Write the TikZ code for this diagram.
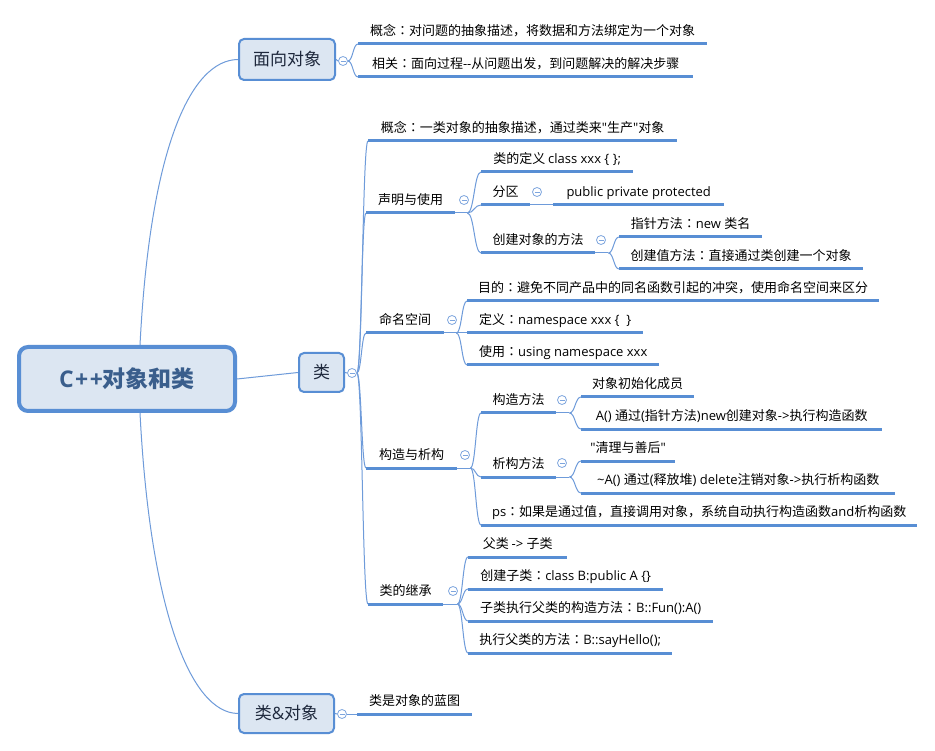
\documentclass[tikz,border=0pt]{standalone}
\usepackage{fontspec}
\newfontfamily\cjkfont{Noto Sans CJK SC}
\newfontfamily\colfont{Noto Sans CJK TC}
\newfontfamily\latinfont{Open Sans}
\usetikzlibrary{calc,backgrounds}
% automatic switching between Latin and CJK fonts
\newXeTeXintercharclass\CJKcls
\newXeTeXintercharclass\COLcls
\makeatletter
\def\setcjkrange#1#2{\count@=#1\relax
  \loop\XeTeXcharclass\count@=\CJKcls\advance\count@ by 1\relax
  \ifnum\count@<#2\repeat}
\makeatother
\setcjkrange{"3000}{"3040}
\setcjkrange{"4E00}{"A000}
\setcjkrange{"FF00}{"FFF0}
\XeTeXcharclass"FF1A=\COLcls
\XeTeXinterchartoks 0 \CJKcls = {\cjkfont}
\XeTeXinterchartoks 4095 \CJKcls = {\cjkfont}
\XeTeXinterchartoks \CJKcls 0 = {\latinfont}
\XeTeXinterchartoks 4095 0 = {\latinfont}
\XeTeXinterchartoks 0 \COLcls = {\colfont}
\XeTeXinterchartoks \CJKcls \COLcls = {\colfont}
\XeTeXinterchartoks 4095 \COLcls = {\colfont}
\XeTeXinterchartoks \COLcls \CJKcls = {\cjkfont}
\XeTeXinterchartoks \COLcls 0 = {\latinfont}
\XeTeXinterchartokenstate=1
\definecolor{lineblue}{RGB}{88,142,212}
\definecolor{thinblue}{RGB}{110,155,218}
\definecolor{boxfill}{RGB}{220,230,242}
\definecolor{rootfg}{RGB}{58,94,140}
\definecolor{boxtext}{RGB}{30,40,60}
\definecolor{circblue}{RGB}{125,165,222}
\newcommand\leafline[1]{\draw[uline] (#1.south west) -- (#1.south east);}
\tikzset{
  leaf/.style={anchor=south west, inner xsep=0pt, inner ysep=8pt, text depth=0pt,
    font=\latinfont\fontsize{13}{15}\selectfont},
  uline/.style={draw=lineblue, line width=3pt},
  conn/.style={draw=thinblue, line width=1pt},
  sbend/.style={to path={.. controls ($(\tikztostart)!0.5!(\tikztotarget|-\tikztostart)$)
      and ($(\tikztotarget)!0.5!(\tikztostart|-\tikztotarget)$) .. (\tikztotarget)}},
  box/.style={draw=lineblue, line width=2pt, fill=boxfill, rounded corners=5pt,
    font=\latinfont\fontsize{17}{20}\selectfont, text=boxtext, inner sep=0pt},
  rootbox/.style={draw=lineblue, line width=4pt, fill=boxfill, rounded corners=9pt,
    font=\latinfont\fontsize{23}{27}\selectfont\bfseries, text=rootfg,
    minimum width=216pt, minimum height=64pt, inner sep=0pt},
  toggle/.style={circle, draw=circblue, line width=0.8pt, fill=white,
    minimum size=9pt, inner sep=0pt,
    path picture={\draw[circblue, line width=0.8pt]
      ([xshift=-2.5pt]path picture bounding box.center) --
      ([xshift=2.5pt]path picture bounding box.center);}},
}
\begin{document}
\begin{tikzpicture}[x=1pt,y=-1pt]
\useasboundingbox (0,0) rectangle (935,751);

% main boxes
\node[rootbox] (root) at (127,379) {C{\kern1.5pt}+{\kern1.5pt}+对象和类};
\node[box, minimum width=96pt, minimum height=41pt] (mxdx) at (287,59.5) {面向对象};
\node[box, minimum width=45pt, minimum height=39pt] (lei) at (321.5,372.5) {类};
\node[box, minimum width=95pt, minimum height=39pt] (ldx) at (286.5,713.5) {类\&对象};

% toggles
\node[toggle] (c1) at (343,61) {};
\node[toggle] (clei) at (352,373) {};
\node[toggle] (cldx) at (342,714) {};
\node[toggle] (csm) at (464,200) {};
\node[toggle] (cfq) at (537,192) {};
\node[toggle] (ccj) at (601,240) {};
\node[toggle] (cmm) at (452,320) {};
\node[toggle] (cgx) at (465,455) {};
\node[toggle] (cgz) at (562,400) {};
\node[toggle] (cxg) at (562,463) {};
\node[toggle] (cjc) at (453,591) {};

% 面向对象 children
\node[leaf, minimum width=349pt] (a1) at (358,44) {概念：对问题的抽象描述，将数据和方法绑定为一个对象};
\node[leaf, minimum width=335pt] (a2) at (358,77) {相关：面向过程--从问题出发，到问题解决的解决步骤};

% 类 children
\node[leaf, minimum width=309pt] (b1) at (368,141) {概念：一类对象的抽象描述，通过类来"生产"对象};
\node[leaf, minimum width=89pt] (b2) at (366,213) {声明与使用};
\node[leaf, minimum width=78pt] (b3) at (366,333) {命名空间};
\node[leaf, minimum width=91pt] (b4) at (366,468) {构造与析构};
\node[leaf, minimum width=75pt] (b5) at (368,604) {类的继承};

% 声明与使用
\node[leaf, minimum width=152pt] (s1) at (481,172) {类的定义 class xxx \{ \};};
\node[leaf, minimum width=49pt] (s2) at (481,205) {分区};
\node[leaf, minimum width=171pt] (s2b) at (553,205) {public private protected};
\node[leaf, minimum width=114pt] (s3) at (481,253) {创建对象的方法};
\node[leaf, minimum width=143pt] (s31) at (619,237) {指针方法：new 类名};
\node[leaf, minimum width=244pt] (s32) at (619,269) {创建值方法：直接通过类创建一个对象};

% 命名空间
\node[leaf, minimum width=412pt] (n1) at (467,301) {目的：避免不同产品中的同名函数引起的冲突，使用命名空间来区分};
\node[leaf, minimum width=176pt] (n2) at (467,333) {定义：namespace xxx \{\ \ \}};
\node[leaf, minimum width=192pt] (n3) at (467,365) {使用：using namespace xxx};

% 构造与析构
\node[leaf, minimum width=75pt] (k1) at (481,413) {构造方法};
\node[leaf, minimum width=113pt] (k11) at (581,397) {对象初始化成员};
\node[leaf, minimum width=301pt] (k12) at (581,429) {A() 通过(指针方法)new创建对象->执行构造函数};
\node[leaf, minimum width=75pt] (k2) at (481,477) {析构方法};
\node[leaf, minimum width=94pt] (k21) at (581,461) {"清理与善后"};
\node[leaf, minimum width=314pt] (k22) at (581,493) {\textasciitilde A() 通过(释放堆) delete注销对象->执行析构函数};
\node[leaf, minimum width=436pt] (k3) at (481,525) {ps：如果是通过值，直接调用对象，系统自动执行构造函数and析构函数};

% 类的继承
\node[leaf, minimum width=99pt] (j1) at (468,557) {父类 -> 子类};
\node[leaf, minimum width=195pt] (j2) at (468,589) {创建子类：class B:public A \{\}};
\node[leaf, minimum width=245pt] (j3) at (468,621) {子类执行父类的构造方法：B::Fun():A()};
\node[leaf, minimum width=204pt] (j4) at (468,653) {执行父类的方法：B::sayHello();};

% 类&对象
\node[leaf, minimum width=115pt] (d1) at (357,714) {类是对象的蓝图};

% underlines
\foreach \n in {a1,a2,b1,b2,b3,b4,b5,s1,s2,s2b,s3,s31,s32,n1,n2,n3,k1,k11,k12,k2,k21,k22,k3,j1,j2,j3,j4,d1}{\leafline{\n}}

% forks
\coordinate (fb2) at ([xshift=12pt]b2.south east);
\coordinate (fb3) at ([xshift=12pt]b3.south east);
\coordinate (fb4) at ([xshift=13pt]b4.south east);
\coordinate (fb5) at ([xshift=14pt]b5.south east);
\coordinate (fs3) at ([xshift=13pt]s3.south east);
\coordinate (fk1) at ([xshift=13pt]k1.south east);
\coordinate (fk2) at ([xshift=13pt]k2.south east);

\begin{pgfonlayer}{background}
  \fill[white] (0,0) rectangle (935,751);
  % root links
  \draw[conn] ([xshift=13pt]root.north) .. controls (150,150) and (190,60) .. (mxdx.west);
  \draw[conn] (root.east) -- (lei.west);
  \draw[conn] ([xshift=13pt]root.south) .. controls (150,608) and (190,713) .. (ldx.west);
  % 面向对象
  \draw[conn] (mxdx.east) -- (c1.west);
  \draw[conn] (c1.east) to[sbend] (a1.south west);
  \draw[conn] (c1.east) to[sbend] (a2.south west);
  % 类
  \draw[conn] (lei.east) -- (clei.west);
  \foreach \t in {b1,b2,b3,b4,b5}{\draw[conn] (clei.east) to[sbend] (\t.south west);}
  % 声明与使用
  \draw[conn] (b2.south east) -- (fb2);
  \foreach \t in {s1,s2,s3}{\draw[conn] (fb2) to[sbend] (\t.south west);}
  \draw[conn] (s2.south east) -- (s2b.south west);
  \draw[conn] (s3.south east) -- (fs3);
  \foreach \t in {s31,s32}{\draw[conn] (fs3) to[sbend] (\t.south west);}
  % 命名空间
  \draw[conn] (b3.south east) -- (fb3);
  \foreach \t in {n1,n2,n3}{\draw[conn] (fb3) to[sbend] (\t.south west);}
  % 构造与析构
  \draw[conn] (b4.south east) -- (fb4);
  \foreach \t in {k1,k2,k3}{\draw[conn] (fb4) to[sbend] (\t.south west);}
  \draw[conn] (k1.south east) -- (fk1);
  \foreach \t in {k11,k12}{\draw[conn] (fk1) to[sbend] (\t.south west);}
  \draw[conn] (k2.south east) -- (fk2);
  \foreach \t in {k21,k22}{\draw[conn] (fk2) to[sbend] (\t.south west);}
  % 类的继承
  \draw[conn] (b5.south east) -- (fb5);
  \foreach \t in {j1,j2,j3,j4}{\draw[conn] (fb5) to[sbend] (\t.south west);}
  % 类&对象
  \draw[conn] (ldx.east) -- (cldx.west);
  \draw[conn] (cldx.east) -- (d1.south west);
\end{pgfonlayer}
\end{tikzpicture}
\end{document}
